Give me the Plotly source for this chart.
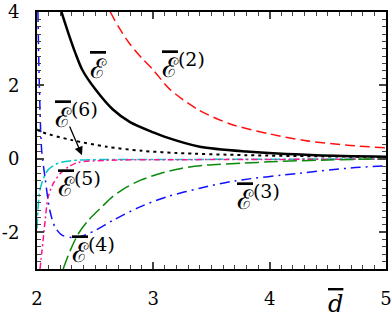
import plotly.graph_objects as go

# ---- data ----
d_total = [2.2, 2.27, 2.33, 2.39, 2.5, 2.65, 2.8, 3.0, 3.1, 3.4, 3.8, 4.4, 5.0]
e_total = [4.1, 3.42, 2.88, 2.42, 1.9, 1.35, 1.0, 0.72, 0.6, 0.33, 0.2, 0.1, 0.06]

d_e2 = [2.63, 2.7, 2.8, 2.9, 3.0, 3.14, 3.38, 3.66, 4.0, 4.3, 4.67, 5.0]
e_e2 = [4.0, 3.6, 3.12, 2.75, 2.42, 1.9, 1.35, 0.95, 0.68, 0.5, 0.37, 0.3]

d_e3 = [2.008, 2.02, 2.04, 2.07, 2.11, 2.155, 2.215, 2.3, 2.37, 2.5, 2.65,
        2.89, 3.12, 3.4, 3.7, 4.26, 4.69, 5.0]
e_e3 = [4.0, 2.0, 0.24, -0.53, -1.4, -1.86, -2.08, -2.14, -2.12, -1.95, -1.68,
        -1.3, -1.03, -0.8, -0.6, -0.39, -0.25, -0.19]

d_e4 = [2.225, 2.285, 2.355, 2.44, 2.56, 2.65, 2.77, 2.89, 3.06, 3.24, 3.46,
        3.76, 4.0, 4.5, 5.0]
e_e4 = [-3.0, -2.5, -2.04, -1.68, -1.3, -1.03, -0.77, -0.58, -0.4, -0.26, -0.17,
        -0.12, -0.08, -0.03, 0.0]

d_e5 = [2.0, 2.01, 2.025, 2.06, 2.095, 2.18, 2.33, 3.0, 4.0, 5.0]
e_e5 = [-1.9, -1.3, -0.85, -0.5, -0.3, -0.12, -0.04, -0.02, -0.01, 0.0]

d_e5b = [2.026, 2.043, 2.07, 2.095, 2.14, 2.2, 2.27, 2.35, 2.6, 3.5, 5.0]
e_e5b = [-3.0, -2.5, -1.68, -1.05, -0.67, -0.4, -0.22, -0.1, -0.04, -0.02, -0.01]

d_e6 = [2.0, 2.05, 2.3, 2.6, 2.9, 3.2, 3.8, 4.4, 5.0]
e_e6 = [0.8, 0.72, 0.51, 0.33, 0.22, 0.16, 0.1, 0.07, 0.05]

x_ticks = [2, 3, 4, 5]
y_ticks = [-2, 0, 2, 4]
y_ticktext = ["-2", "0", "2", "4"]

SERIF = "DejaVu Serif"

fig = go.Figure()

series = [
    (d_e5, e_e5, "#00CCCC", "10px,3px,3px,3px", 1.5),
    (d_e5b, e_e5b, "#FF1493", "6px,3px,2px,3px", 1.5),
    (d_e6, e_e6, "black", "3px,4px", 2),
    (d_e4, e_e4, "#0A8A0A", "14px,5px", 1.5),
    (d_e3, e_e3, "#1010FF", "10px,5px,2px,5px", 1.5),
    (d_e2, e_e2, "#FF1010", "10px,5px", 1.5),
    (d_total, e_total, "black", "solid", 2.5),
]

for xs, ys, col, dash, w in series:
    fig.add_trace(go.Scatter(
        x=xs, y=ys, mode="lines",
        line=dict(color=col, dash=dash, width=w, shape="spline", smoothing=0.8),
        showlegend=False,
    ))

E = "<span style='text-decoration:overline'>\u2130</span>"

labels = [
    (2.44, 2.47, E),
    (3.06, 2.55, E + "<sup>(2)</sup>"),
    (2.14, 1.19, E + "<sup>(6)</sup>"),
    (2.16, -0.71, E + "<sup>(5)</sup>"),
    (2.28, -2.49, E + "<sup>(4)</sup>"),
    (3.70, -1.04, E + "<sup>(3)</sup>"),
]
for x, y, t in labels:
    fig.add_annotation(x=x, y=y, text=t, showarrow=False, xanchor="left",
                       yanchor="middle", font=dict(family=SERIF, size=27, color="black"))

# arrow from the E(6) label
fig.add_annotation(x=2.387, y=0.10, ax=2.275, ay=0.92, axref="x", ayref="y",
                   text="", showarrow=True, arrowhead=2, arrowsize=1.3,
                   arrowwidth=1.3, arrowcolor="black")

# axis label d-bar, below the plot between the 4 and 5 ticks
fig.add_annotation(x=0.8825, y=-0.198, xref="paper", yref="paper",
                   text="<i><span style='text-decoration:overline'>d</span></i>",
                   showarrow=False, font=dict(family=SERIF, size=24, color="black"))

fig.update_layout(
    width=392, height=320,
    margin=dict(l=37, r=6, t=12, b=51, autoexpand=False),
    paper_bgcolor="white", plot_bgcolor="white",
    font=dict(family=SERIF, size=18, color="black"),
)

fig.update_xaxes(
    range=[2, 5], tickvals=x_ticks, ticks="inside", ticklen=7, tickwidth=1.5,
    showline=True, linewidth=2, linecolor="black", mirror="allticks",
    showgrid=False, zeroline=False, ticklabelstandoff=12, automargin=False,
    minor=dict(ticks="inside", dtick=0.1, ticklen=4, tickwidth=1.2, showgrid=False),
)
fig.update_yaxes(
    range=[-3, 4], tickvals=y_ticks, ticktext=y_ticktext, ticks="inside",
    ticklen=7, tickwidth=1.5, showline=True, linewidth=2, linecolor="black",
    mirror="allticks", showgrid=False, zeroline=False, ticklabelstandoff=12,
    automargin=False,
    minor=dict(ticks="inside", dtick=0.2, ticklen=4, tickwidth=1.2, showgrid=False),
)

# drop the default page margin so the figure sits at the window's corner
fig.write_html("out.html", config={"displayModeBar": False},
               post_script="document.body.style.margin='0';")
